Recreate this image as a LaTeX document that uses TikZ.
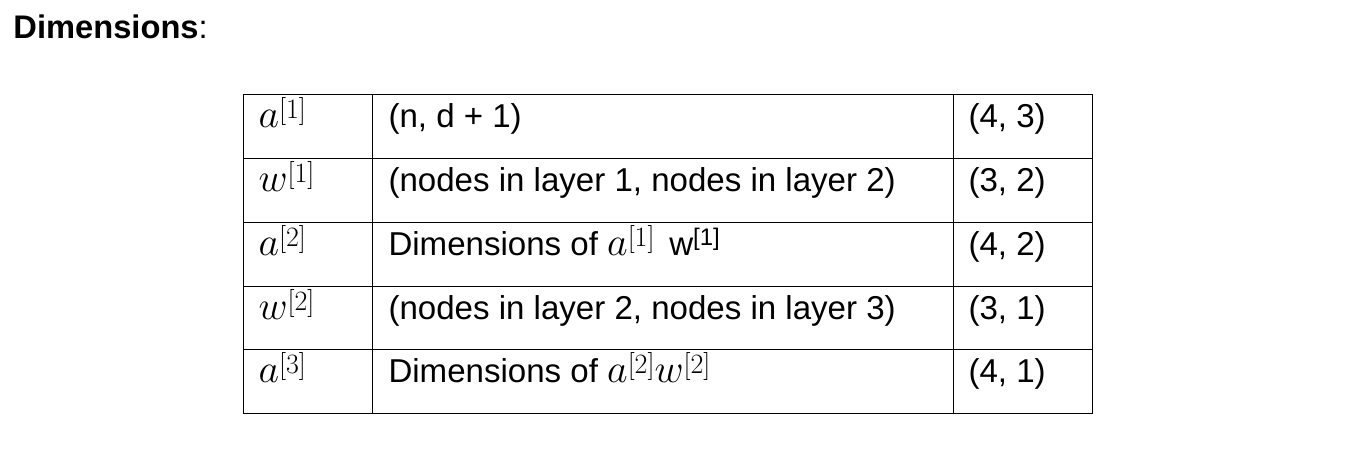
\RequirePackage{fix-cm}
\documentclass[tikz,border=0pt]{standalone}
\usepackage{fontspec}
\setmainfont{Liberation Sans}
\usetikzlibrary{positioning}
\tikzset{>=stealth}
\DeclareMathSizes{24.8}{30}{21}{15}
\newcommand{\msym}[2]{$#1$\raisebox{6.5pt}{$\scriptstyle[#2]$}}
\newcommand{\tsym}[2]{#1\raisebox{7pt}{\fontsize{18}{20}\selectfont[#2]}}

\begin{document}
\begin{tikzpicture}[x=0.75pt, y=-0.75pt, line width=0.75pt,
    every node/.style={inner sep=0pt, anchor=base west},
    cell/.style={font=\fontsize{24.8}{28}\selectfont}]
    \useasboundingbox (0,0) rectangle (1362,453);
    \node[font=\fontsize{24.5}{28}\selectfont] (title) at (13,39) {\textbf{Dimensions}:};
    \draw (243,94) rectangle (1092,413);
    \foreach \y in {158,222,286,349}
    {
        \draw (243,\y)--(1092,\y);
    }
    \foreach \x in {372,953}
    {
        \draw (\x,94)--(\x,413);
    }
    \foreach \r/\y/\sym/\dims/\shp in {
        1/127/{\msym{a}{1}}/{(n, d + 1)}/{(4, 3)},
        2/191/{\msym{w}{1}}/{(nodes in layer 1, nodes in layer 2)}/{(3, 2)},
        3/255/{\msym{a}{2}}/{Dimensions of \msym{a}{1}\ \,\tsym{w}{1}}/{(4, 2)},
        4/319/{\msym{w}{2}}/{(nodes in layer 2, nodes in layer 3)}/{(3, 1)},
        5/382/{\msym{a}{3}}/{Dimensions of \msym{a}{2}\msym{w}{2}}/{(4, 1)}}
    {
        \node[cell] (sym\r) at (258,\y) {\sym};
        \node[cell] (dim\r) at (388,\y) {\dims};
        \node[cell] (shp\r) at (968,\y) {\shp};
    }
\end{tikzpicture}
\end{document}
